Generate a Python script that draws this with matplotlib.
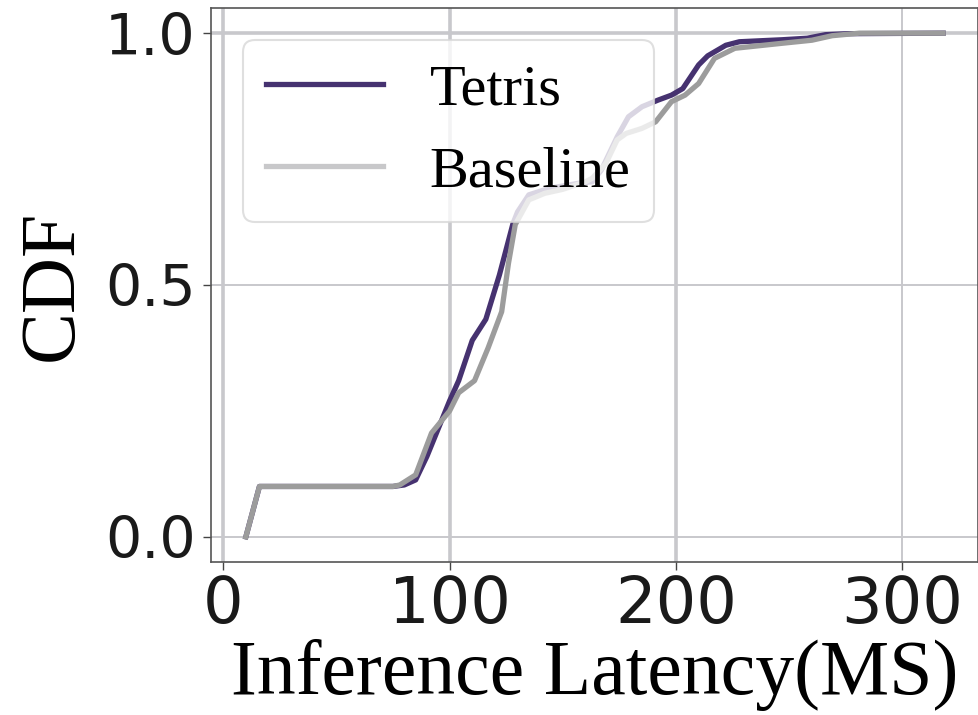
import matplotlib

matplotlib.use("Agg")
import matplotlib.pyplot as plt

# latency (ms) -> CDF
tetris_x = [10, 16, 75, 80, 85, 90, 95, 100, 104, 110, 116, 122, 128, 130, 135,
            144, 157, 163, 167, 174, 179, 185, 192, 198, 203, 210, 214, 222, 228,
            247, 258, 266, 276, 318]
tetris_y = [0.0, 0.1, 0.1, 0.103, 0.113, 0.16, 0.215, 0.27, 0.31, 0.39, 0.432,
            0.52, 0.622, 0.645, 0.679, 0.692, 0.702, 0.705, 0.728, 0.794, 0.834,
            0.854, 0.867, 0.877, 0.89, 0.937, 0.955, 0.976, 0.983, 0.987, 0.99,
            0.997, 0.999, 1.0]

baseline_x = [10, 16, 75, 78, 85, 92, 100, 104, 111, 117, 123, 126, 129, 135,
              142, 150, 160, 163, 169, 174, 178, 185, 191, 198, 204, 210, 217,
              226, 247, 260, 269, 281, 318]
baseline_y = [0.0, 0.1, 0.1, 0.103, 0.123, 0.206, 0.25, 0.286, 0.31, 0.375,
              0.447, 0.543, 0.62, 0.669, 0.682, 0.69, 0.705, 0.712, 0.741, 0.788,
              0.801, 0.811, 0.824, 0.864, 0.877, 0.9, 0.95, 0.97, 0.98, 0.986,
              0.995, 1.0, 1.0]

x_ticks = [0, 100, 200, 300]
y_ticks = [0.0, 0.5, 1.0]

serif = "Liberation Serif"

fig = plt.figure(figsize=(9.79, 7.15), dpi=100)
ax = fig.add_axes([211 / 979, 153 / 715, 767 / 979, 554 / 715])

ax.plot(tetris_x, tetris_y, color="#463270", lw=3.8, label="Tetris")
ax.plot(baseline_x, baseline_y, color="#9c9c9c", lw=3.8, label="Baseline")

ax.set_xticks(x_ticks)
ax.set_yticks(y_ticks)
ax.set_yticklabels([f"{v:.1f}" for v in y_ticks])
ax.tick_params(axis="x", labelsize=46, length=6, width=1, color="#444444", pad=3)
ax.tick_params(axis="y", labelsize=41, length=6, width=1, color="#444444", pad=5)
for lab in ax.get_xticklabels() + ax.get_yticklabels():
    lab.set_color("#1a1a1a")

ax.grid(True, color="#c8c8cc", lw=1.4)
ax.set_axisbelow(True)
# the first gridlines look heavier in the reference
for i, gl in enumerate(ax.get_xgridlines()):
    if i < 3:
        gl.set_linewidth(2.6)
ax.get_ygridlines()[-1].set_linewidth(2.6)

for sp in ax.spines.values():
    sp.set_color("#555555")
    sp.set_linewidth(1.2)

ax.set_xlabel("Inference Latency(MS)", fontsize=56, family=serif, labelpad=2)
ax.set_ylabel("CDF", fontsize=56, family=serif, labelpad=12)

leg = ax.legend(loc="upper left", prop={"family": serif, "size": 42},
                framealpha=0.8, fancybox=True, borderaxespad=0.55)
leg.get_frame().set_edgecolor("#d8d8d8")
leg.get_frame().set_linewidth(1.5)
leg.get_lines()[1].set_color("#c8c8ca")

fig.savefig("out.png", dpi=100)
plt.close(fig)
